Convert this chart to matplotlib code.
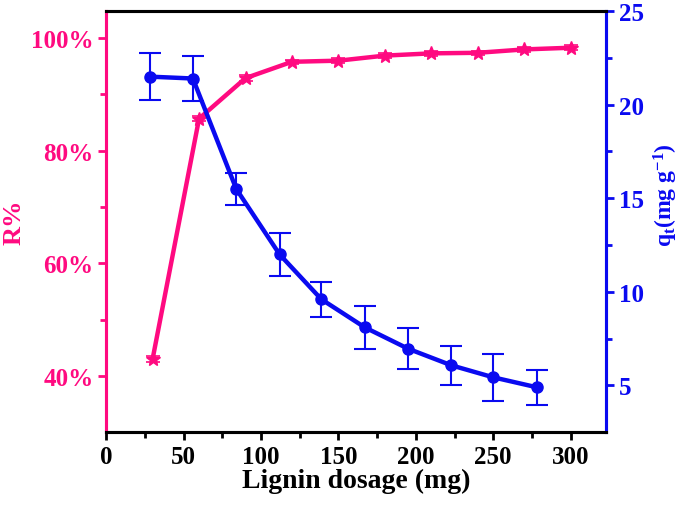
import numpy as np
import matplotlib
matplotlib.use("Agg")
import matplotlib.pyplot as plt

plt.rcParams['font.family'] = ['Liberation Serif', 'DejaVu Serif']
plt.rcParams['font.weight'] = 'bold'
plt.rcParams['mathtext.fontset'] = 'custom'
plt.rcParams['mathtext.rm'] = 'Liberation Serif:bold'
plt.rcParams['mathtext.it'] = 'Liberation Serif:bold'
plt.rcParams['mathtext.bf'] = 'Liberation Serif:bold'

# removal rate (left axis)
dose_r = [30, 60, 90, 120, 150, 180, 210, 240, 270, 300]
removal = [43.0, 85.7, 92.9, 95.8, 96.0, 96.9, 97.3, 97.4, 98.0, 98.3]
removal_err = [0.5, 0.5, 0.5, 0.4, 0.4, 0.5, 0.4, 0.4, 0.4, 0.4]

# adsorption capacity (right axis)
dose_q = [28, 56, 84, 112, 139, 167, 195, 223, 250, 278]
qt = [21.5, 21.4, 15.5, 12.0, 9.6, 8.1, 6.96, 6.07, 5.43, 4.9]
qt_err = [1.25, 1.2, 0.87, 1.15, 0.92, 1.16, 1.11, 1.04, 1.25, 0.93]

pink = '#FF0A80'
blue = '#0A0AF0'

fig = plt.figure(figsize=(6.85, 5.06), dpi=100)
ax = fig.add_axes([0.155, 0.144, 0.730, 0.832])
ax2 = ax.twinx()

ax.errorbar(dose_r, removal, yerr=removal_err, color=pink, lw=3.2, marker='*',
            ms=10, capsize=5, elinewidth=1.2, capthick=1.2, zorder=3)
ax2.errorbar(dose_q, qt, yerr=qt_err, color=blue, lw=3.2, marker='o',
             ms=8, capsize=8, elinewidth=1.5, capthick=1.5, zorder=3)

ax.set_xlim(0, 323)
ax.set_ylim(30, 104.8)
ax2.set_ylim(2.5, 25)

ax.set_xticks([0, 50, 100, 150, 200, 250, 300])
ax.set_xticks([25, 75, 125, 175, 225, 275], minor=True)
ax.set_yticks([40, 60, 80, 100])
ax.set_yticklabels(['40%', '60%', '80%', '100%'])
ax.set_yticks([50, 70, 90], minor=True)
ax2.set_yticks([5, 10, 15, 20, 25])
ax2.set_yticks([7.5, 12.5, 17.5, 22.5], minor=True)

for a in (ax, ax2):
    for s in a.spines.values():
        s.set_linewidth(2.2)
ax2.spines['left'].set_color(pink)
ax2.spines['right'].set_color(blue)
ax.spines['left'].set_color(pink)
ax.spines['right'].set_color(blue)

ax.tick_params(axis='x', which='major', length=6, width=2, labelsize=18, pad=3)
ax.tick_params(axis='x', which='minor', length=4, width=2)
ax.tick_params(axis='y', which='major', length=6, width=2, labelsize=18,
               color=pink, labelcolor=pink, pad=3)
ax.tick_params(axis='y', which='minor', length=4, width=2, color=pink)
ax2.tick_params(axis='y', which='major', length=6, width=2, labelsize=18,
                color=blue, labelcolor=blue, pad=3)
ax2.tick_params(axis='y', which='minor', length=4, width=2, color=blue)

ax.set_xlabel('Lignin dosage (mg)', fontsize=20, fontweight='bold', labelpad=0)
ax.set_ylabel('R%', fontsize=19, fontweight='bold', color=pink)
ax.yaxis.set_label_coords(-0.162, 0.5)
ax2.set_ylabel(r'q$_\mathregular{t}$(mg g$^\mathregular{-1}$)', fontsize=17,
               fontweight='bold', color=blue)
ax2.yaxis.set_label_coords(1.092, 0.565)

fig.savefig('out.png', dpi=100)
